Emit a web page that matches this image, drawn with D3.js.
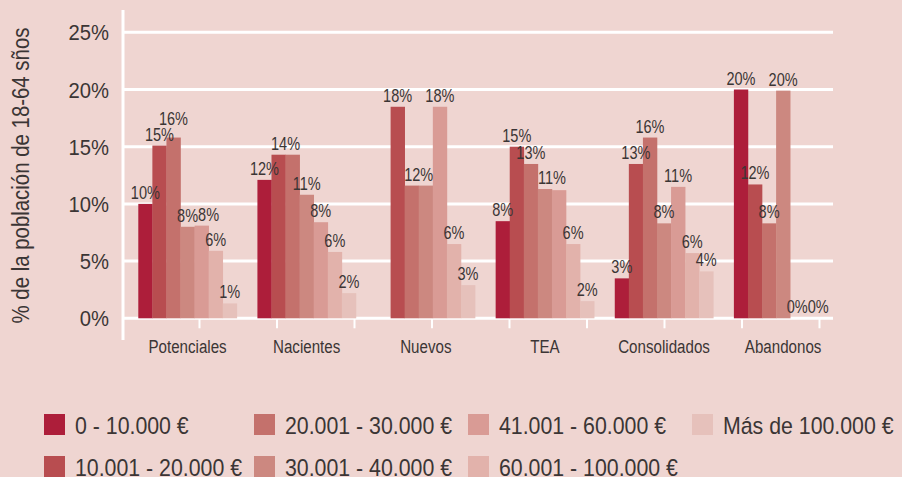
<!DOCTYPE html>
<html>
<head>
<meta charset="utf-8">
<script src="https://cdn.jsdelivr.net/npm/d3@7"></script>
<style>
  html, body { margin: 0; padding: 0; background: #efd5d1; }
  svg { display: block; }
  text { font-family: "Liberation Sans", Arial, sans-serif; fill: #3b3535; }
</style>
</head>
<body>
<svg id="chart" width="902" height="477"></svg>
<script>
// Stages of entrepreneurial activity (x groups)
const categories = ["Potenciales", "Nacientes", "Nuevos", "TEA", "Consolidados", "Abandonos"];

// Household income bands (one bar per band inside each group)
const incomeBands = [
  "0 - 10.000 €", "10.001 - 20.000 €", "20.001 - 30.000 €", "30.001 - 40.000 €",
  "41.001 - 60.000 €", "60.001 - 100.000 €", "Más de 100.000 €"
];
const bandColors = ["#ad1e3a", "#b84d50", "#c4716c", "#cc8880", "#d99b95", "#e2b2ab", "#e6c1bb"];

// % of the 18-64 population, per income band (null = no data)
const potenciales  = [10.0, 15.1, 15.8, 8.0, 8.1, 5.9, 1.3];
const nacientes    = [12.1, 14.3, 14.3, 10.8, 8.4, 5.8, 2.2];
const nuevos       = [null, 18.49, 11.6, 11.6, 18.49, 6.49, 2.9];
const tea          = [8.49, 15.0, 13.49, 11.3, 11.2, 6.49, 1.5];
const consolidados = [3.49, 13.49, 15.8, 8.3, 11.49, 5.7, 4.1];
const abandonos    = [20.0, 11.7, 8.3, 19.9, 0, 0, null];

const yTicks = [0, 5, 10, 15, 20, 25];
const yTitle = "% de la población de 18-64 sños";

// Neighbouring bars that share a single value label: [category, first band index]
const sharedLabels = [["Nacientes", 1], ["Nuevos", 2], ["TEA", 3]];

const valuesByCategory = {
  "Potenciales": potenciales, "Nacientes": nacientes, "Nuevos": nuevos,
  "TEA": tea, "Consolidados": consolidados, "Abandonos": abandonos
};

const svg = d3.select("#chart");

// narrow lettering: place a text at (x, y) and squeeze it horizontally
function place(sel, x, y, sx) {
  return sel.attr("transform", `translate(${x},${y}) scale(${sx},1)`);
}

const x0 = d3.scaleBand().domain(categories).range([128, 842.7]).paddingInner(0.173).paddingOuter(0.0865);
const x1 = d3.scaleBand().domain(d3.range(incomeBands.length)).range([0, x0.bandwidth()]);
const y = d3.scaleLinear().domain([0, 25]).range([318.3, 32.3]);
const color = d3.scaleOrdinal().domain(d3.range(incomeBands.length)).range(bandColors);

const plotLeft = 123, plotRight = 833;

// horizontal grid
svg.append("g").selectAll("line").data(yTicks).join("line")
  .attr("x1", plotLeft).attr("x2", plotRight)
  .attr("y1", d => y(d)).attr("y2", d => y(d))
  .attr("stroke", "#fff").attr("stroke-width", 3);

// vertical axis line
svg.append("line").attr("x1", plotLeft).attr("x2", plotLeft).attr("y1", 10).attr("y2", 340)
  .attr("stroke", "#fff").attr("stroke-width", 3);

// bottom tick marks
const tickScale = d3.scaleLinear().domain([0, 9]).range([122, 819.5]);
svg.append("g").selectAll("line").data(d3.range(1, 10)).join("line")
  .attr("x1", d => tickScale(d)).attr("x2", d => tickScale(d))
  .attr("y1", y(0)).attr("y2", y(0) + 10)
  .attr("stroke", "#fff").attr("stroke-width", 2);

// y tick labels
svg.append("g").selectAll("text").data(yTicks).join("text")
  .attr("text-anchor", "end")
  .style("font-size", "22px")
  .each(function (d) { place(d3.select(this), 109, y(d) + 8, 0.92); })
  .text(d => d + "%");

// y title
svg.append("text")
  .attr("transform", "translate(28.5,175.5) rotate(-90) scale(0.85,1)")
  .attr("text-anchor", "middle")
  .style("font-size", "24px")
  .text(yTitle);

// bars
const groups = svg.append("g").selectAll("g").data(categories).join("g")
  .attr("transform", d => `translate(${x0(d)},0)`);

groups.selectAll("rect")
  .data(c => valuesByCategory[c].map((v, i) => ({ c, i, v })).filter(d => d.v !== null && d.v > 0))
  .join("rect")
  .attr("x", d => x1(d.i)).attr("width", x1.bandwidth() + 0.3)
  .attr("y", d => y(d.v)).attr("height", d => y(0) - y(d.v))
  .attr("fill", d => color(d.i));

// value labels
const fmt = v => Math.round(v) + "%";
const labelLayer = svg.append("g");
const labelGap = 5, labelH = 13, labelSx = 0.83;

categories.forEach(c => {
  const vals = valuesByCategory[c];
  const items = [];
  vals.forEach((v, i) => {
    if (v === null) return;
    const shared = sharedLabels.find(s => s[0] === c && (s[1] === i || s[1] + 1 === i));
    if (shared && shared[1] + 1 === i) return; // drawn with its neighbour
    let cx = x0(c) + x1(i) + x1.bandwidth() / 2;
    let top = v;
    if (shared) {
      cx += x1.bandwidth() / 2;
      top = Math.max(v, vals[i + 1]);
    }
    const base = y(top) - labelGap;
    const t = labelLayer.append("text")
      .attr("text-anchor", "middle")
      .style("font-size", "17.5px")
      .text(fmt(v));
    place(t, cx, base, labelSx);
    const w = t.node().getComputedTextLength() * labelSx;
    items.push({ t, cx, base, w });
  });
  // resolve collisions with the previous label of the group
  for (let k = 1; k < items.length; k++) {
    const a = items[k - 1], b = items[k];
    const xOverlap = (a.cx + a.w / 2) - (b.cx - b.w / 2);
    const yOverlap = labelH - Math.abs(a.base - b.base);
    if (xOverlap > 0 && yOverlap > 0) {
      if (Math.abs(a.base - b.base) < 4) {
        b.cx += xOverlap;
      } else if (b.base < a.base) {
        b.base = a.base - labelH - 3;
      } else {
        b.cx += xOverlap;
      }
      place(b.t, b.cx, b.base, labelSx);
    }
  }
});

// category labels
svg.append("g").selectAll("text").data(categories).join("text")
  .attr("text-anchor", "middle")
  .style("font-size", "17.6px")
  .each(function (d) { place(d3.select(this), x0(d) + x0.bandwidth() / 2, 353.3, 0.86); })
  .text(d => d);

// legend: 4 columns x 2 rows, filled column by column
const legendCols = [44, 254, 468, 692];
const legendRows = [414, 456];
const legend = svg.append("g").selectAll("g").data(incomeBands).join("g")
  .attr("transform", (d, i) => `translate(${legendCols[Math.floor(i / 2)]},${legendRows[i % 2]})`);
legend.append("rect").attr("width", 21).attr("height", 21).attr("fill", (d, i) => color(i));
legend.append("text")
  .style("font-size", "24.5px")
  .each(function () { place(d3.select(this), 31, 20, 0.87); })
  .text(d => d);
</script>
</body>
</html>
